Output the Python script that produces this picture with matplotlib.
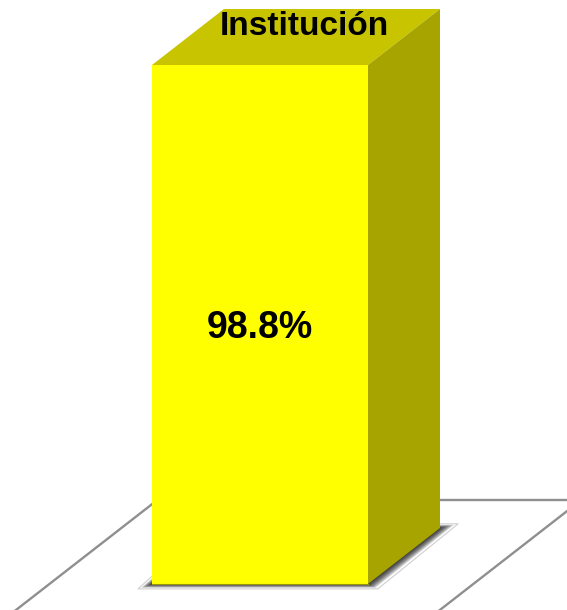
import numpy as np
import matplotlib.pyplot as plt
from matplotlib.patches import Polygon

categories = ['Institución']
values = [98.8]
labels = ['98.8%']

# colores de las caras de la barra 3D
FRONT = '#FFFF00'
TOP = '#C8C400'
SIDE = '#A7A400'
FLOOR_LINE = '#8F8F8F'

# escala en pixeles (figura 567x610 a 100 dpi)
PX_X = 1 / 270.0      # unidades de x por pixel
PX_Y = 1 / 5.253      # unidades de y por pixel
WIDTH = 0.8
DX = 72 * PX_X        # profundidad de la barra
DY = 56 * PX_Y

fig = plt.figure(figsize=(5.67, 6.10), dpi=100)
ax = fig.add_axes([0, 0, 1, 1])
ax.set_xlim(-260 * PX_X, 307 * PX_X)
ax.set_ylim(-26 * PX_Y, 584 * PX_Y)
ax.axis('off')

# piso: lineas laterales y borde trasero
fx0, fx1 = -0.78, 0.79
d_front, d_back = -1.0, 1.5
for fx in (fx0, fx1):
    ax.plot([fx + d_front * DX, fx + d_back * DX], [d_front * DY, d_back * DY],
            color=FLOOR_LINE, lw=1.7, zorder=0, solid_capstyle='butt')
ax.plot([fx0 + d_back * DX, fx1 + d_back * DX + 0.5], [d_back * DY, d_back * DY],
        color=FLOOR_LINE, lw=1.7, zorder=0)

x = np.arange(len(categories))
bars = ax.bar(x, values, width=WIDTH, color=FRONT, edgecolor='none', zorder=3)

for xi, v, bar, lab, cat in zip(x, values, bars, labels, categories):
    x0 = bar.get_x()
    x1 = x0 + bar.get_width()

    # sombra difusa bajo la barra
    def footprint(e):
        ex, ey = e * PX_X, e * PX_Y
        return [(x0 - ex, -0.35 * ey), (x1 + 0.7 * ex, -0.35 * ey),
                (x1 + DX + 1.3 * ex, DY + 0.3 * ey), (x0 + DX - ex, DY + 0.3 * ey)]
    ax.add_patch(Polygon(footprint(14), closed=True, facecolor='white',
                         edgecolor='#CFCFCF', lw=0.8, zorder=1))
    for e in np.linspace(11, 0, 12):
        ax.add_patch(Polygon(footprint(e), closed=True, facecolor='black',
                             edgecolor='none', alpha=0.11, zorder=2))

    # cara superior
    ax.add_patch(Polygon([(x0, v), (x1, v), (x1 + DX, v + DY), (x0 + DX, v + DY)],
                         closed=True, facecolor=TOP, edgecolor='none', zorder=3))
    # cara lateral
    ax.add_patch(Polygon([(x1, 0), (x1 + DX, DY), (x1 + DX, v + DY), (x1, v)],
                         closed=True, facecolor=SIDE, edgecolor='none', zorder=3))
    # linea inferior de la cara frontal
    ax.plot([x0, x1], [0, 0], color='#9A9600', lw=0.8, zorder=4)

    ax.text(xi, v / 2 - 3 * PX_Y, lab, ha='center', va='center', fontsize=27,
            fontweight='bold', family='Liberation Sans', zorder=5)
    ax.text(xi + DX * 0.62, v + DY / 2 + 2 * PX_Y, cat, ha='center', va='baseline',
            fontsize=24, fontweight='bold', family='Liberation Sans', zorder=5)

fig.savefig('out.png', dpi=100)
